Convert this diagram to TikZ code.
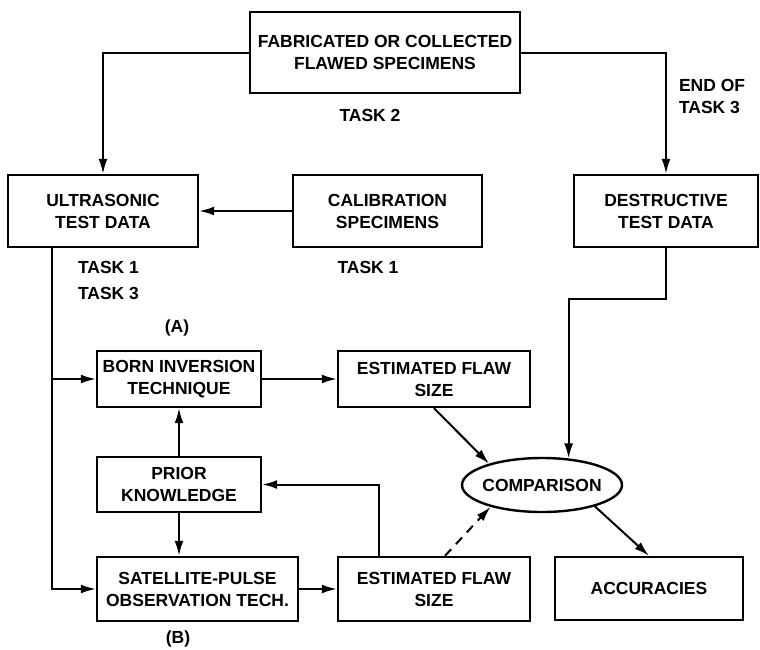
\documentclass[tikz,border=0pt]{standalone}
\usepackage{fontspec}
\setmainfont{Liberation Sans}
\usetikzlibrary{calc}
\usetikzlibrary{arrows.meta}
\usetikzlibrary{shapes.geometric}

\begin{document}
\begin{tikzpicture}[x=1pt,y=-1pt,line width=2pt,
    >={Latex[length=15pt,width=9pt]},
    font=\fontsize{17.5}{22}\selectfont\bfseries,
    box/.style={draw, rectangle, line width=2.4pt, align=center, inner sep=1pt},
    lbl/.style={inner sep=0pt, align=left}
    ]
\useasboundingbox (0,0) rectangle (760,649);

\node[box, minimum width=270, minimum height=81] (fab) at (385,52.5) {FABRICATED OR COLLECTED\\FLAWED SPECIMENS};
\node[box, minimum width=190, minimum height=72] (ult) at (103,211) {ULTRASONIC\\TEST DATA};
\node[box, minimum width=189, minimum height=72] (cal) at (387.5,211) {CALIBRATION\\SPECIMENS};
\node[box, minimum width=184, minimum height=72] (dest) at (666,211) {DESTRUCTIVE\\TEST DATA};

\node[box, minimum width=164, minimum height=56] (born) at (179,379) {BORN INVERSION\\TECHNIQUE};
\node[box, minimum width=192, minimum height=56] (est1) at (434,379) {ESTIMATED FLAW\\SIZE};
\node[box, minimum width=164, minimum height=55] (prior) at (179,484.5) {PRIOR\\KNOWLEDGE};
\node[box, minimum width=201, minimum height=64] (sat) at (197.5,589) {SATELLITE-PULSE\\OBSERVATION TECH.};
\node[box, minimum width=192, minimum height=64] (est2) at (434,589) {ESTIMATED FLAW\\SIZE};
\node[box, minimum width=188, minimum height=63] (acc) at (649,588.5) {ACCURACIES};
\node[box, ellipse, inner xsep=-6pt, inner ysep=0pt, minimum width=160, minimum height=54] (comp) at (542,485) {COMPARISON};

\node[lbl] (task2) at (370,115) {TASK 2};
\node[lbl, anchor=west] (endtask3) at (678,96) {END OF\\TASK 3};
\node[lbl, anchor=west] (task13) at (77,280) {TASK 1\\[4pt]TASK 3};
\node[lbl] (task1) at (368,267) {TASK 1};
\node[lbl] (labA) at (177,328) {(A)};
\node[lbl] (labB) at (178,639) {(B)};

\draw[->] (fab.west) -| (ult.north);
\draw[->] (fab.east) -| (dest.north);
\draw[->] (cal.west) -- (ult.east);

\coordinate (trunk) at ($(ult.south west)+(45,0)$);
\draw[->] (trunk) |- (sat.west);
\draw[->] (trunk |- born.west) -- (born.west);
\draw[->] (born.east) -- (est1.west);
\draw[->] (prior.north) -- (born.south);
\draw[->] (prior.south) -- (prior.south |- sat.north);
\draw[->] (sat.east) -- (est2.west);
\draw[->] ($(est2.north west)+(42,0)$) |- (prior.east);

\draw[->] (est1.south) -- (comp.158);
\draw[->, dash pattern=on 9pt off 7pt] ($(est2.north)+(11,0)$) -- (comp.203);
\draw[->] (comp.-22) -- (acc.north);
\draw[->] (dest.south) -- ++(0,51) -| (comp.45);
\end{tikzpicture}
\end{document}
